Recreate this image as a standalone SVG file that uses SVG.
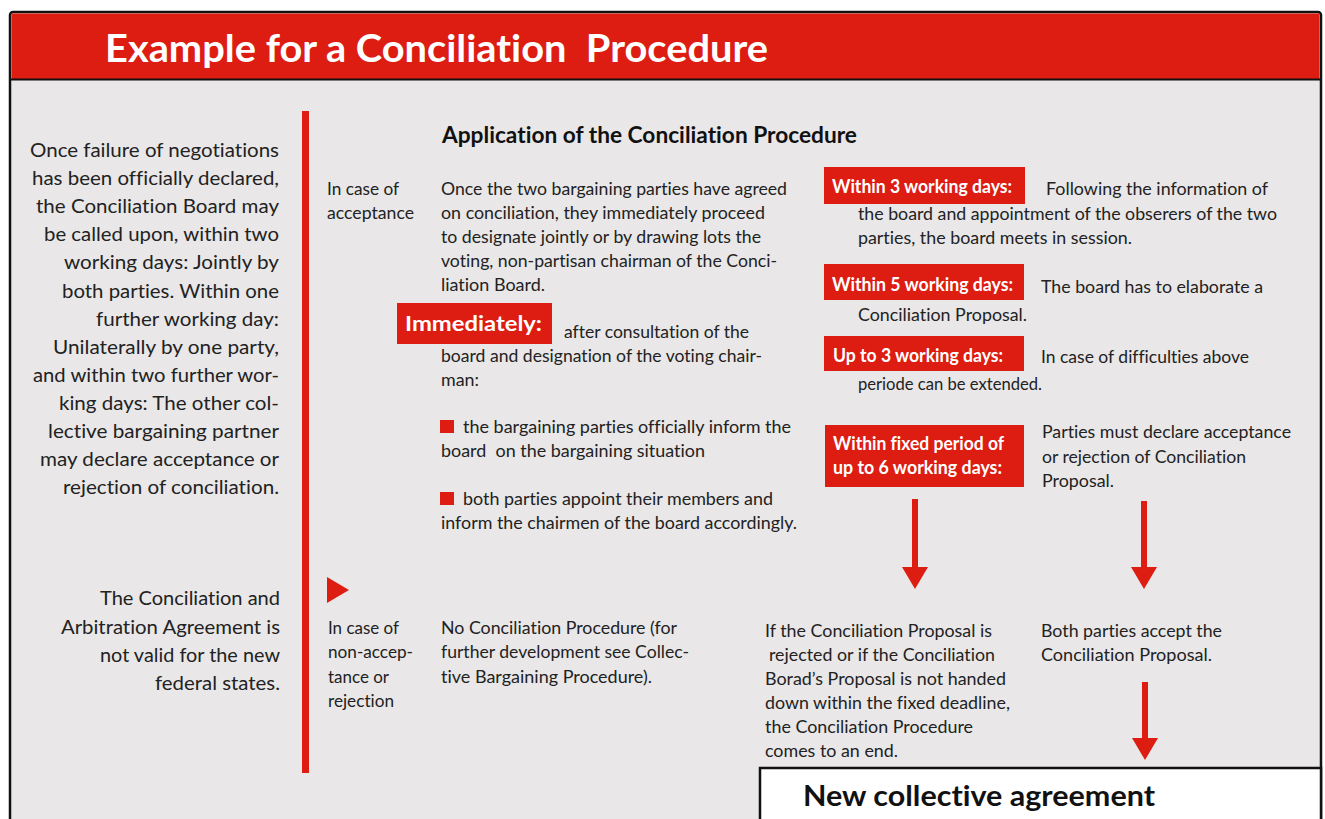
<svg xmlns="http://www.w3.org/2000/svg" width="1325" height="819" viewBox="0 0 1325 819">
<style>
text{font-family:Lato,"Open Sans","Liberation Sans",sans-serif;fill:#222;font-variant-ligatures:none;font-feature-settings:"liga" 0,"clig" 0,"dlig" 0}
.t{font-size:18px}
.l{font-size:19.5px}
.b{font-weight:700;fill:#fff;font-size:18px}
.h{font-weight:700;font-size:23px;fill:#111}
.box{fill:#dd1c12}
</style>
<defs>
<marker id="ah" markerUnits="userSpaceOnUse" markerWidth="22" markerHeight="26" viewBox="0 0 22 26" refX="0" refY="13" orient="auto">
<path d="M0,0 L22,13 L0,26 z" fill="#dd1c12"/>
</marker>
</defs>
<rect width="1325" height="819" fill="#fff"/>
<g id="frame">
<rect x="10" y="12" width="1311" height="830" rx="3" fill="#e9e7e8" stroke="#111" stroke-width="2.5"/>
<rect x="11.5" y="13.5" width="1308" height="65.5" fill="#dd1c12"/>
<rect x="10" y="78.5" width="1311" height="2" fill="#111"/>
<rect x="302" y="111" width="7" height="662" fill="#dd1c12"/>
</g>
<g id="title">
<text x="105" y="62" font-size="38" font-weight="700" style="fill:#fff" textLength="663" lengthAdjust="spacingAndGlyphs" xml:space="preserve">Example for a Conciliation  Procedure</text>
</g>
<g id="precondition" class="l">
<text x="30" y="157" textLength="249" lengthAdjust="spacingAndGlyphs">Once failure of negotiations</text>
<text x="32" y="185" textLength="247" lengthAdjust="spacingAndGlyphs">has been officially declared,</text>
<text x="36" y="213" textLength="243" lengthAdjust="spacingAndGlyphs">the Conciliation Board may</text>
<text x="44" y="241" textLength="235" lengthAdjust="spacingAndGlyphs">be called upon, within two</text>
<text x="64" y="269" textLength="215" lengthAdjust="spacingAndGlyphs">working days: Jointly by</text>
<text x="62" y="297.5" textLength="217" lengthAdjust="spacingAndGlyphs">both parties. Within one</text>
<text x="96" y="325.5" textLength="183" lengthAdjust="spacingAndGlyphs">further working day:</text>
<text x="53" y="353.5" textLength="226" lengthAdjust="spacingAndGlyphs">Unilaterally by one party,</text>
<text x="33" y="381.5" textLength="246" lengthAdjust="spacingAndGlyphs">and within two further wor-</text>
<text x="59" y="410" textLength="220" lengthAdjust="spacingAndGlyphs">king days: The other col-</text>
<text x="48" y="438" textLength="231" lengthAdjust="spacingAndGlyphs">lective bargaining partner</text>
<text x="40" y="466" textLength="239" lengthAdjust="spacingAndGlyphs">may declare acceptance or</text>
<text x="63" y="494" textLength="216" lengthAdjust="spacingAndGlyphs">rejection of conciliation.</text>
</g>
<g id="validity-note" class="l">
<text x="100" y="605" textLength="180" lengthAdjust="spacingAndGlyphs">The Conciliation and</text>
<text x="61" y="634" textLength="219" lengthAdjust="spacingAndGlyphs">Arbitration Agreement is</text>
<text x="100" y="662" textLength="180" lengthAdjust="spacingAndGlyphs">not valid for the new</text>
<text x="155" y="690" textLength="125" lengthAdjust="spacingAndGlyphs">federal states.</text>
</g>
<g id="heading">
<text class="h" x="442" y="143" textLength="415" lengthAdjust="spacingAndGlyphs">Application of the Conciliation Procedure</text>
</g>
<g id="case-acceptance" class="t">
<text x="327" y="195" textLength="72" lengthAdjust="spacingAndGlyphs">In case of</text>
<text x="327" y="219" textLength="87" lengthAdjust="spacingAndGlyphs">acceptance</text>
</g>
<g id="acceptance-text" class="t">
<text x="441" y="195" textLength="346" lengthAdjust="spacingAndGlyphs">Once the two bargaining parties have agreed</text>
<text x="441" y="219" textLength="324" lengthAdjust="spacingAndGlyphs">on conciliation, they immediately proceed</text>
<text x="441" y="243" textLength="320" lengthAdjust="spacingAndGlyphs">to designate jointly or by drawing lots the</text>
<text x="441" y="267" textLength="336" lengthAdjust="spacingAndGlyphs">voting, non-partisan chairman of the Conci-</text>
<text x="441" y="291" textLength="104" lengthAdjust="spacingAndGlyphs">liation Board.</text>
</g>
<g id="immediately">
<rect class="box" x="397" y="303" width="155" height="41"/>
<text class="b" x="405" y="331" style="font-size:21px" textLength="137" lengthAdjust="spacingAndGlyphs">Immediately:</text>
<g class="t">
<text x="564" y="338" textLength="185" lengthAdjust="spacingAndGlyphs">after consultation of the</text>
<text x="441" y="362" textLength="321" lengthAdjust="spacingAndGlyphs">board and designation of the voting chair-</text>
<text x="441" y="386" textLength="38" lengthAdjust="spacingAndGlyphs">man:</text>
</g>
</g>
<g id="bullet-inform" class="t">
<rect class="box" x="440" y="420" width="14" height="13"/>
<text x="463" y="433" textLength="328" lengthAdjust="spacingAndGlyphs">the bargaining parties officially inform the</text>
<text x="441" y="457" textLength="264" lengthAdjust="spacingAndGlyphs" xml:space="preserve">board  on the bargaining situation</text>
</g>
<g id="bullet-appoint" class="t">
<rect class="box" x="440" y="492" width="14" height="13"/>
<text x="463" y="505" textLength="310" lengthAdjust="spacingAndGlyphs">both parties appoint their members and</text>
<text x="441" y="529" textLength="356" lengthAdjust="spacingAndGlyphs">inform the chairmen of the board accordingly.</text>
</g>
<g id="step-3-days">
<rect class="box" x="824" y="167" width="201" height="37"/>
<text class="b" x="832" y="193" textLength="180" lengthAdjust="spacingAndGlyphs">Within 3 working days:</text>
<g class="t">
<text x="1046" y="195" textLength="222" lengthAdjust="spacingAndGlyphs">Following the information of</text>
<text x="858" y="220" textLength="419" lengthAdjust="spacingAndGlyphs">the board and appointment of the obserers of the two</text>
<text x="858" y="244" textLength="274" lengthAdjust="spacingAndGlyphs">parties, the board meets in session.</text>
</g>
</g>
<g id="step-5-days">
<rect class="box" x="824" y="264" width="200" height="36"/>
<text class="b" x="832" y="291" textLength="181" lengthAdjust="spacingAndGlyphs">Within 5 working days:</text>
<g class="t">
<text x="1041" y="293" textLength="222" lengthAdjust="spacingAndGlyphs">The board has to elaborate a</text>
<text x="858" y="321" textLength="169" lengthAdjust="spacingAndGlyphs">Conciliation Proposal.</text>
</g>
</g>
<g id="step-extension">
<rect class="box" x="824" y="336" width="200" height="35"/>
<text class="b" x="833" y="362" textLength="170" lengthAdjust="spacingAndGlyphs">Up to 3 working days:</text>
<g class="t">
<text x="1041" y="363" textLength="208" lengthAdjust="spacingAndGlyphs">In case of difficulties above</text>
<text x="858" y="390" textLength="184" lengthAdjust="spacingAndGlyphs">periode can be extended.</text>
</g>
</g>
<g id="step-6-days">
<rect class="box" x="825" y="425" width="199" height="62"/>
<text class="b" x="833" y="450" textLength="171" lengthAdjust="spacingAndGlyphs">Within fixed period of</text>
<text class="b" x="833" y="474" textLength="169" lengthAdjust="spacingAndGlyphs">up to 6 working days:</text>
<g class="t">
<text x="1042" y="438" textLength="249" lengthAdjust="spacingAndGlyphs">Parties must declare acceptance</text>
<text x="1042" y="463" textLength="204" lengthAdjust="spacingAndGlyphs">or rejection of Conciliation</text>
<text x="1042" y="487" textLength="72" lengthAdjust="spacingAndGlyphs">Proposal.</text>
</g>
</g>
<g id="result-rejected" class="t">
<text x="765" y="637" textLength="227" lengthAdjust="spacingAndGlyphs">If the Conciliation Proposal is</text>
<text x="769" y="661" textLength="226" lengthAdjust="spacingAndGlyphs">rejected or if the Conciliation</text>
<text x="765" y="685" textLength="241" lengthAdjust="spacingAndGlyphs">Borad’s Proposal is not handed</text>
<text x="765" y="709" textLength="245" lengthAdjust="spacingAndGlyphs">down within the fixed deadline,</text>
<text x="765" y="733" textLength="208" lengthAdjust="spacingAndGlyphs">the Conciliation Procedure</text>
<text x="765" y="757" textLength="133" lengthAdjust="spacingAndGlyphs">comes to an end.</text>
</g>
<g id="result-accepted" class="t">
<text x="1041" y="637" textLength="181" lengthAdjust="spacingAndGlyphs">Both parties accept the</text>
<text x="1041" y="661" textLength="171" lengthAdjust="spacingAndGlyphs">Conciliation Proposal.</text>
</g>
<g id="case-rejection">
<polygon points="327,577 349,590 327,603" fill="#dd1c12"/>
<g class="t">
<text x="328" y="634" textLength="71" lengthAdjust="spacingAndGlyphs">In case of</text>
<text x="328" y="658" textLength="85" lengthAdjust="spacingAndGlyphs">non-accep-</text>
<text x="328" y="683" textLength="61" lengthAdjust="spacingAndGlyphs">tance or</text>
<text x="328" y="707" textLength="66" lengthAdjust="spacingAndGlyphs">rejection</text>
</g>
</g>
<g id="rejection-text" class="t">
<text x="441" y="634" textLength="236" lengthAdjust="spacingAndGlyphs">No Conciliation Procedure (for</text>
<text x="441" y="658" textLength="248" lengthAdjust="spacingAndGlyphs">further development see Collec-</text>
<text x="441" y="683" textLength="211" lengthAdjust="spacingAndGlyphs">tive Bargaining Procedure).</text>
</g>
<g id="new-agreement">
<rect x="760" y="768" width="561" height="70" fill="#fff" stroke="#111" stroke-width="2.5"/>
<text x="803" y="806" font-size="28" font-weight="700" style="fill:#111" textLength="352" lengthAdjust="spacingAndGlyphs">New collective agreement</text>
</g>
<g id="connectors" stroke="#dd1c12" stroke-width="6" fill="none">
<line x1="915" y1="499" x2="915" y2="567" marker-end="url(#ah)"/>
<line x1="1144" y1="501" x2="1144" y2="567" marker-end="url(#ah)"/>
<line x1="1145" y1="682" x2="1145" y2="738" marker-end="url(#ah)"/>
</g>
</svg>
